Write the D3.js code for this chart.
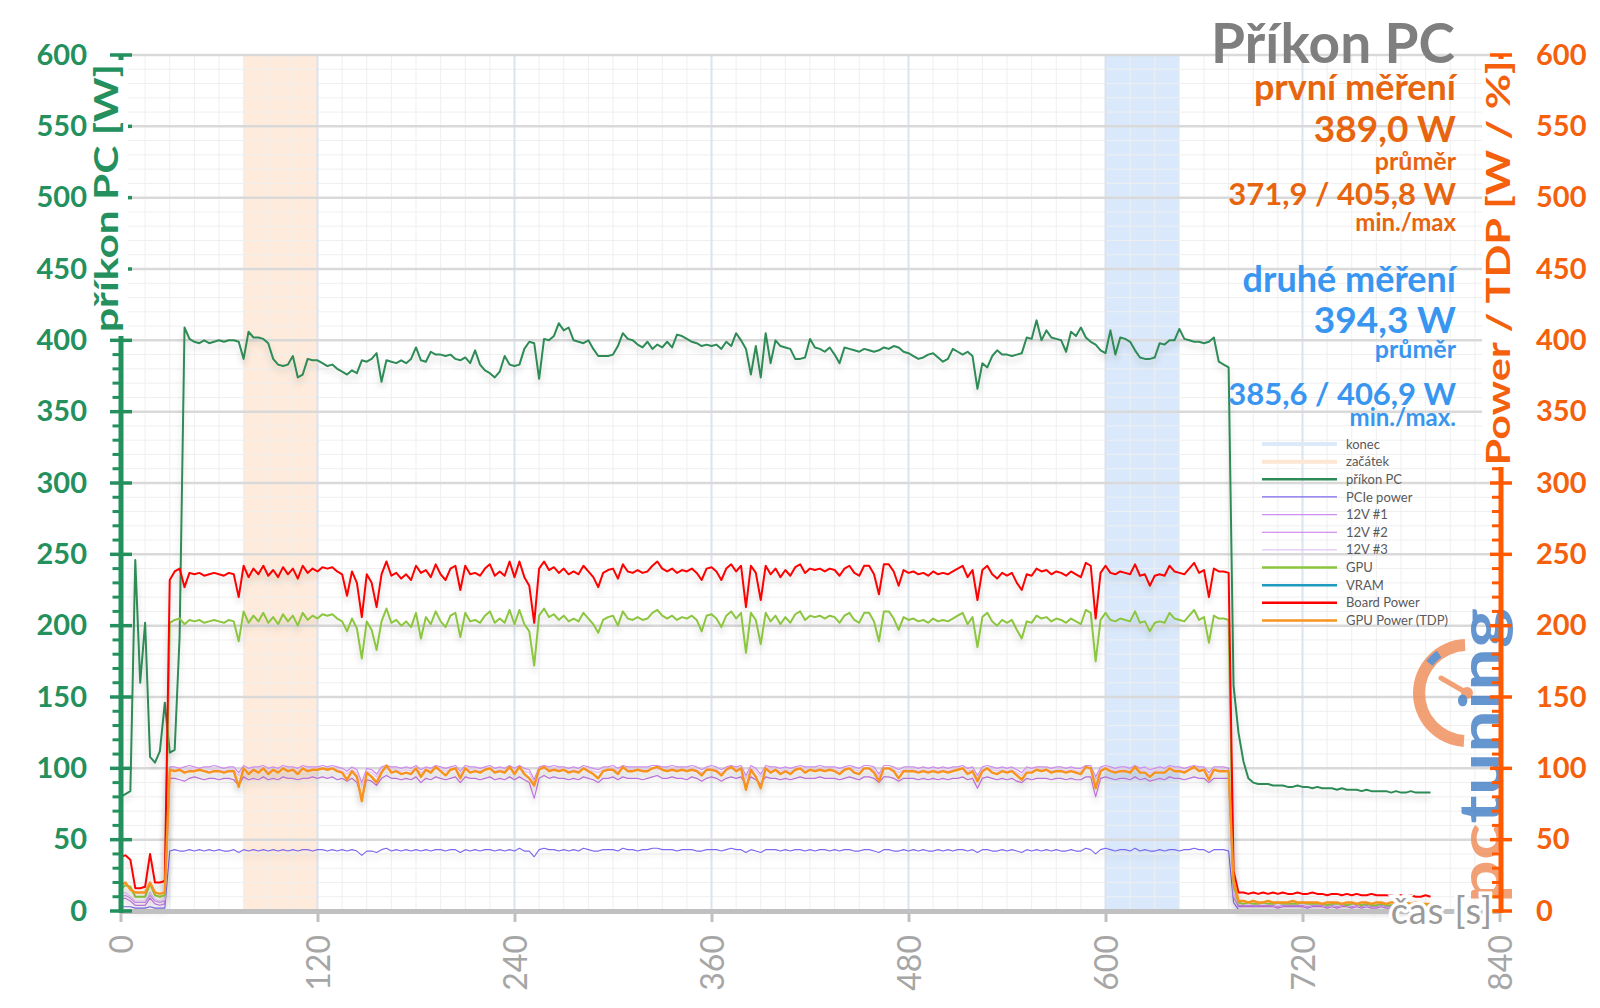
<!DOCTYPE html>
<html>
<head>
<meta charset="utf-8">
<script src="https://cdn.jsdelivr.net/npm/d3@7"></script>
<style>
body { margin: 0; background: #fff; }
svg { display: block; font-family: Lato, "Open Sans", sans-serif; }
</style>
</head>
<body>
<div id="chart"></div>
<script>
// one sample every 3 s, first sample at 0 s
const STEP = 3;

const prikonPC = [
  80, 82, 84, 246, 160, 202, 108, 104, 112, 146,        // 0
  111, 113, 192, 409, 401, 399, 398, 400, 398, 399,     // 30
  400, 399, 400, 400, 399, 387, 406, 402, 402, 401,     // 60
  398, 387, 383, 382, 383, 389, 374, 376, 387, 386,     // 90
  386, 384, 382, 383, 380, 378, 376, 379, 377, 386,     // 120
  385, 387, 391, 371, 386, 385, 384, 386, 384, 387,     // 150
  395, 386, 385, 392, 390, 390, 389, 390, 387, 386,     // 180
  388, 384, 393, 383, 379, 377, 374, 378, 389, 383,     // 210
  382, 383, 394, 399, 398, 373, 401, 400, 403, 412,     // 240
  407, 409, 400, 399, 398, 400, 394, 389, 389, 389,     // 270
  390, 396, 405, 401, 400, 397, 395, 399, 394, 397,     // 300
  395, 399, 395, 404, 403, 401, 399, 398, 396, 397,     // 330
  396, 397, 394, 399, 396, 405, 400, 394, 376, 396,     // 360
  374, 405, 384, 400, 396, 395, 394, 387, 387, 388,     // 390
  401, 395, 394, 392, 395, 390, 384, 395, 394, 393,     // 420
  392, 394, 393, 392, 393, 395, 394, 396, 395, 392,     // 450
  391, 389, 387, 388, 390, 391, 388, 385, 387, 394,     // 480
  392, 390, 392, 389, 366, 384, 381, 389, 393, 390,     // 510
  390, 389, 390, 391, 402, 401, 414, 400, 407, 402,     // 540
  401, 400, 392, 406, 403, 409, 402, 399, 397, 393,     // 570
  391, 407, 390, 402, 401, 399, 393, 388, 387, 387,     // 600
  388, 398, 397, 400, 400, 408, 401, 400, 399, 399,     // 630
  398, 399, 402, 385, 383, 381, 158, 125, 105, 93,      // 660
  90, 89, 89, 89, 88, 88, 88, 87, 87, 88,               // 690
  87, 87, 86, 87, 86, 86, 86, 85, 86, 85,               // 720
  85, 85, 84, 85, 84, 84, 84, 84, 83, 84,               // 750
  83, 83, 84, 83, 83, 83, 83                            // 780
];

const pciePower = [
  3, 3, 3, 2, 2, 2, 3, 2, 2, 2,
  42, 43, 42, 42, 43, 42, 43, 42, 43, 42,
  43, 42, 42, 43, 41, 43, 42, 43, 42, 43,
  42, 43, 42, 43, 42, 43, 42, 43, 43, 42,
  43, 43, 42, 43, 42, 43, 42, 43, 42, 39,
  42, 42, 41, 43, 44, 42, 43, 42, 43, 42,
  43, 42, 43, 42, 43, 43, 42, 43, 43, 41,
  43, 42, 43, 42, 43, 43, 42, 43, 42, 43,
  42, 44, 42, 42, 38, 43, 44, 43, 43, 42,
  43, 42, 43, 42, 44, 43, 42, 42, 43, 43,
  43, 42, 44, 43, 43, 42, 43, 43, 44, 44,
  43, 43, 43, 42, 43, 43, 43, 42, 42, 43,
  43, 43, 42, 43, 44, 43, 43, 41, 43, 42,
  41, 43, 43, 43, 42, 43, 42, 43, 43, 42,
  43, 42, 43, 43, 42, 43, 42, 43, 43, 42,
  42, 43, 43, 42, 41, 43, 43, 42, 42, 43,
  42, 43, 42, 43, 42, 42, 43, 42, 43, 42,
  43, 43, 42, 43, 41, 43, 43, 42, 42, 43,
  42, 43, 42, 41, 43, 42, 43, 42, 43, 42,
  43, 42, 42, 43, 42, 42, 44, 43, 40, 43,
  44, 43, 42, 43, 43, 42, 44, 42, 43, 42,
  42, 43, 42, 43, 43, 42, 43, 43, 44, 43,
  43, 41, 43, 43, 43, 42, 6, 1, 1, 1,
  1, 1, 1, 1, 1, 1, 1, 1, 1, 1,
  1, 1, 1, 1, 1, 1, 1, 1, 1, 1,
  1, 1, 1, 1, 1, 1, 1, 1, 1, 1,
  1, 1, 1, 1, 1, 1, 1
];

const v12_1 = [
  10, 11, 9, 6, 6, 6, 11, 7, 6, 7,
  101, 101, 100, 101, 102, 101, 100, 101, 101, 102,
  101, 100, 101, 101, 97, 102, 100, 101, 101, 102,
  100, 101, 100, 102, 101, 101, 100, 102, 101, 101,
  101, 102, 101, 102, 101, 100, 98, 101, 99, 90,
  100, 99, 96, 101, 102, 101, 101, 100, 101, 100,
  102, 99, 101, 100, 102, 101, 100, 101, 102, 98,
  102, 101, 101, 100, 101, 102, 100, 101, 100, 102,
  100, 102, 100, 99, 92, 101, 102, 101, 102, 101,
  101, 100, 101, 100, 102, 101, 100, 99, 101, 101,
  102, 100, 102, 101, 101, 101, 101, 101, 102, 102,
  101, 101, 102, 101, 101, 101, 102, 101, 99, 101,
  102, 101, 99, 101, 102, 101, 102, 95, 102, 100,
  96, 102, 101, 101, 100, 101, 100, 101, 102, 101,
  101, 101, 102, 101, 101, 101, 100, 101, 102, 101,
  100, 102, 102, 101, 96, 102, 102, 101, 99, 101,
  101, 101, 100, 101, 100, 101, 100, 101, 100, 101,
  101, 102, 100, 101, 95, 101, 102, 101, 100, 101,
  100, 101, 99, 97, 101, 100, 101, 101, 101, 100,
  101, 101, 100, 101, 100, 100, 102, 102, 94, 101,
  102, 101, 100, 101, 101, 100, 102, 100, 101, 99,
  100, 101, 100, 102, 101, 101, 100, 101, 102, 101,
  101, 97, 101, 101, 101, 100, 12, 4, 4, 4,
  4, 4, 4, 4, 4, 3, 4, 4, 4, 4,
  4, 3, 4, 4, 4, 3, 4, 3, 4, 4,
  3, 4, 3, 4, 3, 3, 4, 3, 3, 4,
  3, 3, 4, 3, 3, 3, 3
];

const v12_2 = [
  8, 9, 7, 4, 4, 4, 9, 5, 4, 5,
  93, 93, 92, 91, 93, 94, 93, 92, 93, 93,
  92, 93, 93, 92, 88, 94, 92, 93, 92, 94,
  92, 93, 92, 94, 93, 93, 92, 93, 93, 94,
  93, 94, 93, 94, 92, 93, 91, 93, 90, 79,
  92, 91, 88, 93, 95, 93, 93, 92, 93, 92,
  94, 90, 93, 92, 94, 93, 92, 93, 94, 90,
  94, 93, 93, 92, 93, 94, 92, 93, 92, 94,
  92, 94, 92, 90, 79, 93, 95, 93, 94, 93,
  93, 92, 93, 92, 94, 93, 92, 90, 93, 93,
  94, 92, 94, 93, 93, 93, 92, 93, 94, 95,
  93, 93, 94, 93, 93, 92, 94, 93, 91, 93,
  94, 93, 91, 93, 94, 93, 94, 88, 94, 92,
  89, 94, 93, 93, 92, 93, 92, 93, 94, 93,
  93, 93, 94, 93, 93, 93, 92, 93, 94, 93,
  92, 94, 94, 93, 90, 94, 94, 93, 91, 93,
  93, 93, 92, 93, 92, 93, 92, 93, 92, 93,
  93, 94, 92, 93, 86, 93, 94, 93, 92, 93,
  92, 93, 91, 90, 93, 92, 93, 93, 93, 92,
  93, 93, 92, 93, 92, 92, 94, 94, 80, 93,
  94, 93, 92, 93, 93, 92, 94, 92, 93, 91,
  92, 93, 92, 94, 93, 93, 92, 93, 94, 93,
  93, 90, 93, 93, 93, 93, 10, 3, 3, 3,
  3, 3, 3, 3, 3, 2, 3, 3, 3, 3,
  3, 2, 3, 3, 3, 2, 3, 2, 3, 3,
  2, 3, 2, 3, 2, 2, 3, 2, 2, 3,
  2, 2, 3, 2, 2, 2, 2
];

const v12_3 = [
  12, 13, 10, 7, 7, 7, 13, 8, 7, 8,
  99, 99, 98, 99, 99, 100, 99, 98, 99, 99,
  99, 98, 99, 99, 95, 100, 98, 99, 99, 100,
  98, 99, 98, 100, 99, 99, 98, 99, 99, 100,
  99, 100, 99, 100, 99, 98, 96, 99, 97, 88,
  98, 97, 94, 99, 100, 99, 99, 98, 99, 98,
  100, 97, 99, 98, 100, 99, 98, 99, 100, 96,
  100, 99, 99, 98, 99, 100, 98, 99, 98, 100,
  98, 100, 98, 97, 90, 99, 100, 99, 100, 99,
  99, 98, 99, 98, 100, 99, 98, 97, 99, 99,
  100, 98, 100, 99, 99, 99, 99, 99, 100, 100,
  99, 99, 100, 99, 99, 99, 100, 99, 97, 99,
  100, 99, 97, 99, 100, 99, 100, 93, 100, 98,
  94, 100, 99, 99, 98, 99, 98, 99, 100, 99,
  99, 99, 100, 99, 99, 99, 98, 99, 100, 99,
  98, 100, 100, 99, 94, 100, 100, 99, 97, 99,
  99, 99, 98, 99, 98, 99, 98, 99, 98, 99,
  99, 100, 98, 99, 93, 99, 100, 99, 98, 99,
  98, 99, 97, 95, 99, 98, 99, 99, 99, 98,
  99, 99, 98, 99, 98, 98, 100, 100, 92, 99,
  100, 99, 98, 99, 99, 98, 100, 98, 99, 97,
  98, 99, 98, 100, 99, 99, 98, 99, 100, 99,
  99, 95, 99, 99, 99, 98, 11, 5, 5, 5,
  5, 5, 5, 5, 5, 4, 5, 5, 5, 5,
  5, 4, 5, 5, 5, 4, 5, 4, 5, 5,
  4, 5, 4, 5, 4, 4, 5, 4, 4, 5,
  4, 4, 5, 4, 4, 4, 4
];

const gpu = [
  15, 18, 17, 10, 10, 10, 19, 11, 10, 11,
  202, 204, 205, 201, 204, 203, 204, 202, 203, 204,
  203, 202, 204, 203, 189, 210, 202, 207, 203, 209,
  202, 206, 201, 208, 203, 207, 200, 209, 204, 207,
  205, 208, 207, 208, 205, 203, 196, 205, 198, 177,
  203, 197, 183, 203, 212, 202, 204, 200, 203, 199,
  209, 191, 206, 201, 210, 203, 199, 207, 209, 192,
  209, 203, 204, 202, 207, 210, 202, 205, 202, 211,
  201, 211, 201, 196, 172, 207, 212, 206, 208, 204,
  207, 203, 205, 203, 209, 205, 201, 195, 204, 206,
  207, 200, 210, 205, 204, 206, 204, 205, 209, 211,
  207, 205, 207, 204, 206, 205, 207, 204, 196, 207,
  208, 205, 199, 207, 210, 205, 209, 181, 209, 204,
  187, 209, 203, 207, 201, 206, 202, 208, 210, 204,
  207, 206, 207, 205, 207, 206, 202, 207, 209, 204,
  202, 209, 209, 203, 189, 210, 210, 205, 197, 206,
  204, 205, 203, 204, 202, 205, 203, 204, 203, 205,
  207, 209, 201, 206, 185, 206, 209, 203, 200, 204,
  202, 204, 197, 191, 203, 202, 207, 205, 206, 203,
  205, 204, 202, 205, 203, 201, 211, 209, 175, 204,
  209, 204, 203, 205, 204, 203, 210, 202, 203, 196,
  202, 203, 202, 209, 205, 204, 203, 207, 211, 204,
  206, 188, 207, 205, 205, 204, 18, 6, 5, 6,
  5, 5, 6, 5, 5, 6, 5, 5, 5, 5,
  6, 5, 5, 5, 5, 4, 5, 5, 5, 4,
  5, 5, 4, 5, 4, 4, 5, 4, 4, 4,
  5, 4, 4, 4, 5, 4, 4
];

const vram = [];

const boardPower = [
  38, 39, 36, 16, 16, 17, 40, 20, 20, 21,
  232, 238, 240, 227, 237, 236, 237, 235, 236, 237,
  236, 235, 237, 236, 220, 242, 234, 240, 236, 242,
  235, 239, 234, 241, 236, 240, 233, 242, 237, 240,
  238, 241, 240, 241, 238, 236, 221, 238, 230, 206,
  236, 230, 213, 236, 245, 235, 237, 233, 236, 232,
  242, 237, 239, 234, 243, 236, 232, 240, 242, 225,
  242, 236, 237, 235, 240, 243, 235, 238, 235, 245,
  234, 245, 234, 228, 202, 240, 245, 239, 241, 237,
  240, 236, 238, 236, 242, 238, 234, 227, 237, 239,
  240, 233, 243, 238, 237, 239, 237, 238, 242, 245,
  240, 238, 240, 237, 239, 238, 240, 237, 232, 240,
  241, 238, 232, 240, 243, 238, 242, 213, 242, 237,
  218, 242, 236, 240, 234, 239, 235, 241, 243, 237,
  240, 239, 240, 238, 240, 239, 235, 240, 242, 237,
  235, 242, 242, 236, 222, 243, 243, 238, 228, 239,
  237, 238, 236, 237, 235, 238, 236, 237, 236, 238,
  240, 242, 234, 239, 218, 239, 242, 236, 233, 237,
  235, 237, 230, 225, 236, 235, 240, 238, 239, 236,
  238, 237, 235, 238, 236, 234, 244, 242, 205, 237,
  242, 237, 236, 238, 237, 236, 243, 235, 236, 228,
  235, 236, 235, 242, 238, 237, 236, 240, 244, 237,
  239, 220, 240, 238, 238, 237, 28, 13, 13, 12,
  13, 12, 13, 12, 13, 12, 13, 12, 12, 13,
  12, 12, 13, 12, 12, 11, 12, 12, 11, 12,
  11, 12, 11, 11, 12, 11, 11, 11, 11, 10,
  11, 10, 11, 10, 10, 11, 10
];

const gpuPowerTDP = [
  18, 20, 15, 13, 13, 13, 20, 13, 12, 13,
  99, 98, 99, 97, 98, 98, 99, 98, 97, 98,
  98, 97, 98, 98, 87, 100, 96, 99, 97, 100,
  96, 99, 97, 100, 98, 99, 96, 100, 98, 99,
  99, 100, 99, 100, 98, 97, 92, 98, 94, 77,
  97, 94, 90, 97, 102, 97, 98, 96, 97, 96,
  100, 94, 99, 97, 101, 98, 95, 99, 100, 93,
  100, 97, 98, 97, 99, 100, 97, 98, 97, 101,
  96, 101, 96, 93, 88, 99, 101, 98, 99, 98,
  99, 97, 98, 97, 100, 98, 96, 93, 98, 99,
  99, 96, 101, 98, 98, 99, 98, 98, 100, 101,
  99, 98, 99, 98, 99, 98, 99, 98, 95, 99,
  99, 98, 95, 99, 101, 98, 100, 85, 99, 94,
  86, 100, 97, 99, 96, 98, 96, 99, 100, 97,
  99, 98, 99, 98, 99, 98, 96, 99, 100, 97,
  96, 100, 100, 97, 91, 100, 100, 98, 93, 98,
  98, 98, 97, 98, 97, 98, 97, 98, 97, 98,
  99, 100, 96, 98, 91, 98, 100, 97, 96, 98,
  97, 98, 95, 92, 97, 97, 99, 98, 99, 97,
  98, 98, 97, 98, 97, 96, 101, 100, 86, 98,
  100, 98, 97, 98, 98, 97, 101, 97, 97, 94,
  97, 97, 97, 100, 98, 98, 97, 99, 101, 98,
  99, 92, 99, 98, 98, 98, 22, 7, 7, 6,
  7, 6, 6, 7, 6, 6, 6, 6, 7, 6,
  6, 6, 6, 6, 5, 6, 6, 6, 5, 6,
  6, 5, 6, 6, 5, 6, 6, 5, 6, 6,
  5, 6, 5, 6, 5, 5, 5
];

// marked windows (seconds)
const zacatek = [75, 120];
const konec = [600, 645];

const xTicks = [0, 120, 240, 360, 480, 600, 720, 840];
const yTicks = [0, 50, 100, 150, 200, 250, 300, 350, 400, 450, 500, 550, 600];

const firstRun = ["první měření", "389,0 W", "průměr", "371,9 / 405,8 W", "min./max"];
const secondRun = ["druhé měření", "394,3 W", "průměr", "385,6 / 406,9 W", "min./max."];

const legendNames = ["konec", "začátek", "příkon PC", "PCIe power", "12V #1", "12V #2", "12V #3", "GPU", "VRAM", "Board Power", "GPU Power (TDP)"];

const w = 1600, h = 1008;
const green = '#23905e', orange = '#f5600c';

const x = d3.scaleLinear().domain([0, 840]).range([120.5, 1499.5]);
const y = d3.scaleLinear().domain([0, 600]).range([911, 55]);

const svg = d3.select("#chart")
  .append("svg")
  .attr("width", w)
  .attr("height", h);

const defs = svg.append("defs");
defs.append("filter")
  .attr("id", "shadow")
  .attr("x", "-2%").attr("y", "-10%").attr("width", "104%").attr("height", "130%")
  .append("feDropShadow")
  .attr("dx", 0).attr("dy", 5).attr("stdDeviation", 3)
  .attr("flood-color", "#000").attr("flood-opacity", 0.16);

// grid
const grid = svg.append("g");
grid.selectAll("line.hmin")
  .data(d3.range(10, 600, 10).filter(v => v % 50))
  .enter().append("line")
  .attr("x1", x(0)).attr("x2", x(840))
  .attr("y1", d => y(d)).attr("y2", d => y(d))
  .attr("stroke", "#efefef").attr("stroke-width", 1);
grid.selectAll("line.vmin")
  .data(d3.range(15, 840, 15).filter(v => v % 120))
  .enter().append("line")
  .attr("x1", d => x(d)).attr("x2", d => x(d))
  .attr("y1", y(0)).attr("y2", y(600))
  .attr("stroke", "#efefef").attr("stroke-width", 1);

// marked windows
svg.append("rect")
  .attr("x", x(zacatek[0])).attr("width", x(zacatek[1]) - x(zacatek[0]))
  .attr("y", y(600)).attr("height", y(0) - y(600))
  .attr("fill", "#fde3cc").attr("opacity", 0.7);
svg.append("rect")
  .attr("x", x(konec[0])).attr("width", x(konec[1]) - x(konec[0]))
  .attr("y", y(600)).attr("height", y(0) - y(600))
  .attr("fill", "#cfe3fa").attr("opacity", 0.8);

grid.raise();
grid.selectAll("line.vmaj")
  .data(xTicks.slice(1, -1))
  .enter().append("line")
  .attr("x1", d => x(d)).attr("x2", d => x(d))
  .attr("y1", y(0)).attr("y2", y(600))
  .attr("stroke", "#dbe3ec").attr("stroke-width", 2);
grid.selectAll("line.hmaj")
  .data(yTicks.slice(1))
  .enter().append("line")
  .attr("x1", x(0)).attr("x2", x(840))
  .attr("y1", d => y(d)).attr("y2", d => y(d))
  .attr("stroke", "#d9d9d9").attr("stroke-width", 2.5);

// series
const series = [
  { values: prikonPC, color: "#2e8b57", width: 2 },
  { values: pciePower, color: "#7b68ee", width: 1.1 },
  { values: v12_1, color: "#d08cf0", width: 1.2 },
  { values: v12_2, color: "#c774e6", width: 1.2 },
  { values: v12_3, color: "#e6c3f6", width: 1.2 },
  { values: gpu, color: "#8cc63f", width: 2 },
  { values: vram, color: "#1f9bbf", width: 2 },
  { values: boardPower, color: "#ff0000", width: 2 },
  { values: gpuPowerTDP, color: "#f7931e", width: 2.4 }
];

const line = d3.line()
  .x((d, i) => x(i * STEP))
  .y(d => y(d));

svg.append("g")
  .selectAll("path")
  .data(series.filter(s => s.values.length))
  .enter().append("path")
  .attr("d", s => line(s.values))
  .attr("fill", "none")
  .attr("stroke", s => s.color)
  .attr("stroke-width", s => s.width)
  .attr("stroke-linejoin", "round")
  .attr("filter", "url(#shadow)");

// legend
const legendStyle = [
  { color: "#dce9f8", width: 4 },
  { color: "#fde6d3", width: 4 },
  { color: "#2e8b57", width: 2.5 },
  { color: "#7b68ee", width: 1.2 },
  { color: "#d08cf0", width: 1.2 },
  { color: "#c774e6", width: 1.2 },
  { color: "#e6c3f6", width: 1.2 },
  { color: "#8cc63f", width: 2.5 },
  { color: "#1f9bbf", width: 2.5 },
  { color: "#ff0000", width: 2.5 },
  { color: "#f7931e", width: 2.5 }
];
const legend = svg.append("g").attr("transform", "translate(1262,444)");
const item = legend.selectAll("g")
  .data(legendNames)
  .enter().append("g")
  .attr("transform", (d, i) => `translate(0,${i * 17.65})`);
item.append("line")
  .attr("x1", 0).attr("x2", 75)
  .attr("stroke", (d, i) => legendStyle[i].color)
  .attr("stroke-width", (d, i) => legendStyle[i].width);
item.append("text")
  .attr("x", 84).attr("dy", "0.35em")
  .attr("font-size", 13).attr("fill", "#595959")
  .text(d => d);

// logo watermark
const logo = svg.append("g").attr("opacity", 0.8);
logo.append("path")
  .attr("transform", "translate(1467,693)")
  .attr("d", d3.arc().innerRadius(42).outerRadius(54).startAngle(-3.08).endAngle(-0.04)())
  .attr("fill", "#f08a55");
logo.append("path")
  .attr("transform", "translate(1467,693)")
  .attr("d", d3.arc().innerRadius(44).outerRadius(52).startAngle(-0.9).endAngle(-0.62)())
  .attr("fill", "#3f7cc4");
logo.append("line")
  .attr("x1", 1467).attr("y1", 693).attr("x2", 1441).attr("y2", 678)
  .attr("stroke", "#f08a55").attr("stroke-width", 5).attr("stroke-linecap", "round");
logo.append("circle").attr("cx", 1467).attr("cy", 693).attr("r", 6).attr("fill", "#f08a55");
const logoText = logo.append("text")
  .attr("transform", "translate(1502,903) rotate(-90)")
  .attr("font-size", 60).attr("font-weight", 700)
  .attr("textLength", 295).attr("lengthAdjust", "spacingAndGlyphs");
logoText.append("tspan").attr("fill", "#ef8a55").text("pc");
logoText.append("tspan").attr("fill", "#3f7cc4").text("tuning");

// x axis
const xAxis = svg.append("g")
  .attr("transform", `translate(0,${y(0)})`)
  .call(d3.axisBottom(x).tickValues(xTicks).tickSize(11).tickSizeOuter(0));
xAxis.select(".domain").attr("stroke", "#c0c0c0").attr("stroke-width", 5);
xAxis.selectAll(".tick line").attr("stroke", "#c0c0c0").attr("stroke-width", 3);
xAxis.selectAll(".tick text")
  .attr("transform", "rotate(-90)")
  .attr("x", -24).attr("y", 11.5).attr("dy", 0)
  .attr("text-anchor", "end")
  .attr("font-family", "Lato, sans-serif")
  .attr("font-size", 32).attr("fill", "#a6a6a6");

// left axis
const minorTicks = d3.range(10, 600, 10).filter(v => v % 50);
svg.append("line")
  .attr("x1", 121).attr("x2", 121).attr("y1", y(600)).attr("y2", y(0) + 2)
  .attr("stroke", green).attr("stroke-width", 5);
svg.append("g").selectAll("line")
  .data(minorTicks).enter().append("line")
  .attr("x1", 112.5).attr("x2", 119).attr("y1", d => y(d)).attr("y2", d => y(d))
  .attr("stroke", green).attr("stroke-width", 3);
svg.append("g").selectAll("line")
  .data(yTicks).enter().append("line")
  .attr("x1", 110).attr("x2", 132).attr("y1", d => y(d)).attr("y2", d => y(d))
  .attr("stroke", green).attr("stroke-width", 3.5);
const yLeft = svg.append("g")
  .attr("transform", "translate(121,0)")
  .call(d3.axisLeft(y).tickValues(yTicks).tickSize(0).tickPadding(34));
yLeft.select(".domain").remove();
yLeft.selectAll("text")
  .attr("font-family", "Lato, sans-serif")
  .attr("font-size", 29).attr("font-weight", 700).attr("fill", green);

// right axis
svg.append("line")
  .attr("x1", 1501).attr("x2", 1501).attr("y1", y(600)).attr("y2", y(0) + 2)
  .attr("stroke", "#ff5a00").attr("stroke-width", 5);
svg.append("g").selectAll("line")
  .data(minorTicks).enter().append("line")
  .attr("x1", 1492).attr("x2", 1499).attr("y1", d => y(d)).attr("y2", d => y(d))
  .attr("stroke", "#ff5a00").attr("stroke-width", 3);
svg.append("g").selectAll("line")
  .data(yTicks).enter().append("line")
  .attr("x1", 1490).attr("x2", 1512).attr("y1", d => y(d)).attr("y2", d => y(d))
  .attr("stroke", "#ff5a00").attr("stroke-width", 3.5);
const yRight = svg.append("g")
  .attr("transform", "translate(1501,0)")
  .call(d3.axisRight(y).tickValues(yTicks).tickSize(0).tickPadding(35));
yRight.select(".domain").remove();
yRight.selectAll("text")
  .attr("font-family", "Lato, sans-serif")
  .attr("font-size", 29).attr("font-weight", 700).attr("fill", orange);

// axis titles
svg.append("rect").attr("x", 91).attr("y", 60).attr("width", 37).attr("height", 276).attr("fill", "#fff");
svg.append("text")
  .attr("transform", "translate(118,198) rotate(-90)")
  .attr("text-anchor", "middle")
  .attr("font-size", 33).attr("font-weight", 700).attr("fill", green)
  .attr("textLength", 268).attr("lengthAdjust", "spacingAndGlyphs")
  .text("příkon PC [W]");

svg.append("rect").attr("x", 1482).attr("y", 59).attr("width", 36).attr("height", 408).attr("fill", "#fff");
svg.append("text")
  .attr("transform", "translate(1510,263) rotate(-90)")
  .attr("text-anchor", "middle")
  .attr("font-size", 33).attr("font-weight", 700).attr("fill", orange)
  .attr("textLength", 405).attr("lengthAdjust", "spacingAndGlyphs")
  .text("Power / TDP [W / %]");

svg.append("text")
  .attr("x", 1493).attr("y", 924)
  .attr("text-anchor", "end")
  .attr("font-size", 36).attr("letter-spacing", 1).attr("fill", "#9a9a9a")
  .attr("stroke", "#fff").attr("stroke-width", 7).attr("paint-order", "stroke")
  .text("čas [s]");

// title and summary
svg.append("text")
  .attr("x", 1455).attr("y", 63)
  .attr("text-anchor", "end")
  .attr("font-size", 55).attr("font-weight", 700).attr("fill", "#7f7f7f")
  .text("Příkon PC");

const statSize = [36, 37, 25, 31, 24];
const firstY = [100, 142, 170, 205, 231];
const secondY = [292, 333, 358, 405, 426];
svg.append("g").selectAll("text")
  .data(firstRun).enter().append("text")
  .attr("x", 1456).attr("y", (d, i) => firstY[i])
  .attr("text-anchor", "end")
  .attr("font-size", (d, i) => statSize[i]).attr("font-weight", 700)
  .attr("fill", "#e8650f")
  .text(d => d);
svg.append("g").selectAll("text")
  .data(secondRun).enter().append("text")
  .attr("x", 1456).attr("y", (d, i) => secondY[i])
  .attr("text-anchor", "end")
  .attr("font-size", (d, i) => statSize[i]).attr("font-weight", 700)
  .attr("fill", "#3996f0")
  .text(d => d);
</script>
</body>
</html>
